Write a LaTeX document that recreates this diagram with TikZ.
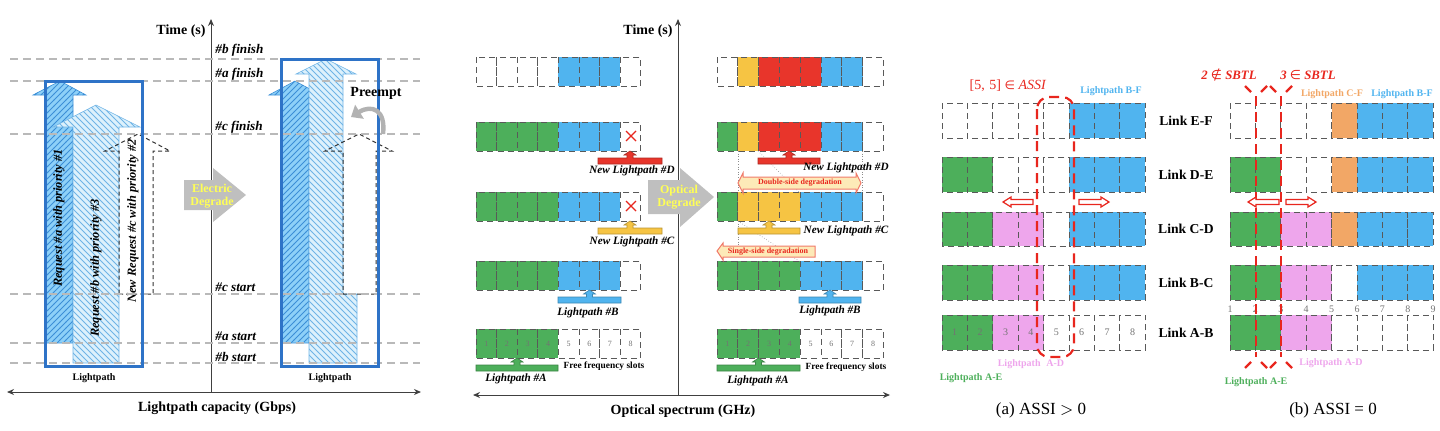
\documentclass[tikz,border=0pt]{standalone}
\usepackage{fontspec}
\setmainfont{Liberation Serif}
\newfontfamily\symfont{DejaVu Sans}
\usetikzlibrary{arrows.meta, patterns}

\definecolor{lpblue}{HTML}{2E73C7}
\definecolor{reqafill}{HTML}{8DD0F8}
\definecolor{reqaline}{HTML}{3C8FD6}
\definecolor{reqbfill}{HTML}{DDF1FC}
\definecolor{reqbline}{HTML}{6FB4E6}
\definecolor{slotgreen}{HTML}{4DAF5B}
\definecolor{slotblue}{HTML}{50B4EF}
\definecolor{slotred}{HTML}{E8352B}
\definecolor{slotyellow}{HTML}{F6C443}
\definecolor{slotpink}{HTML}{EEA6EC}
\definecolor{slotorange}{HTML}{F2A766}
\definecolor{degfill}{HTML}{FDEAB8}
\definecolor{degline}{HTML}{F07A6A}
\definecolor{marker}{HTML}{E8261E}
\definecolor{degtextcol}{HTML}{FFFF55}

\tikzstyle{axisline} = [line width=0.5pt, black!75]
\tikzstyle{guide} = [gray!55, line width=0.55pt, dash pattern=on 4pt off 2.5pt]
\tikzstyle{lpbox} = [draw=lpblue, line width=1.5pt]
\tikzstyle{reqa} = [draw=reqaline, line width=0.3pt, preaction={fill=reqafill}, pattern=north east lines, pattern color=reqaline]
\tikzstyle{reqb} = [draw=reqbline, line width=0.3pt, preaction={fill=reqbfill}, pattern=north west lines, pattern color=reqbline]
\tikzstyle{reqc} = [draw=black!80, line width=0.5pt, dash pattern=on 2pt off 1.5pt]
\tikzstyle{timelabel} = [font=\fontsize{6.6}{7}\selectfont\bfseries\itshape, anchor=west, inner sep=0]
\tikzstyle{reqtext} = [font=\fontsize{6.2}{7}\selectfont\bfseries\itshape, rotate=90, inner sep=0]
\tikzstyle{small} = [font=\fontsize{5}{6}\selectfont\bfseries, inner sep=0]
\tikzstyle{axistitle} = [font=\fontsize{7}{8}\selectfont\bfseries, inner sep=0]
\tikzstyle{degrade} = [fill=gray!50, draw=none]
\tikzstyle{degtext} = [font=\fontsize{6}{6.8}\selectfont\bfseries, text=degtextcol, align=center, inner sep=0]
\tikzstyle{slot} = [draw=black!65, densely dashed, line width=0.4pt]
\tikzstyle{slotnum} = [font=\fontsize{4}{5}\selectfont, text=black!55, inner sep=0]
\tikzstyle{lplabel} = [font=\fontsize{5.6}{6}\selectfont\bfseries\itshape, inner sep=0]
\tikzstyle{freelabel} = [font=\fontsize{4.7}{5}\selectfont\bfseries, inner sep=0]
\tikzstyle{degarrow} = [draw=degline, fill=degfill, line width=0.5pt]
\tikzstyle{degnote} = [font=\fontsize{4}{4.5}\selectfont\bfseries, text=marker, inner sep=0]
\tikzstyle{proj} = [black!45, line width=0.3pt, densely dotted]
\tikzstyle{link} = [font=\fontsize{6.8}{7}\selectfont\bfseries, inner sep=0]
\tikzstyle{pathname} = [font=\fontsize{5}{5.5}\selectfont\bfseries, inner sep=0]
\tikzstyle{redmark} = [draw=marker, line width=1.1pt, dash pattern=on 5pt off 3pt]
\tikzstyle{redtext} = [font=\fontsize{7}{8}\selectfont, text=marker, inner sep=0]
\tikzstyle{sbtltext} = [font=\fontsize{6.4}{7}\selectfont\bfseries\itshape, text=marker, inner sep=0]
\tikzstyle{caption} = [font=\fontsize{8.5}{9}\selectfont, inner sep=0]
\tikzstyle{hollow} = [draw=marker, fill=white, line width=0.6pt]

% one row of spectrum slots: x0, y0, slot width, height, colours
\newcommand{\slotrow}[5]{%
  \foreach \c [count=\i from 0] in {#5}
    \draw[slot, fill=\c] ({#1+\i*#3},#2) rectangle ++(#3,#4);
}
% lightpath bar with a small arrow: x1, x2, y top, colour
\newcommand{\lpbar}[4]{%
  \pgfmathsetmacro{\xm}{(#1+#2)/2}
  \draw[draw=#4!75!black, fill=#4, line width=0.3pt] (#1,#3+6) -- (#1,#3) -- (\xm-3,#3) -- (\xm-3,#3-3) -- (\xm-6,#3-3)
    -- (\xm,#3-7) -- (\xm+6,#3-3) -- (\xm+3,#3-3) -- (\xm+3,#3) -- (#2,#3) -- (#2,#3+6) -- cycle;
}
% hollow red arrow: tail x, head base x, tip x, y
\newcommand{\harrow}[4]{%
  \draw[hollow] (#1,#4-2.5) -- (#2,#4-2.5) -- (#2,#4-5) -- (#3,#4) -- (#2,#4+5) -- (#2,#4+2.5) -- (#1,#4+2.5) -- cycle;
}

\begin{document}
\begin{tikzpicture}[x=0.5pt, y=-0.5pt]
\useasboundingbox (0,0) rectangle (1440,430);

% ---------- electric layer ----------
\coordinate (e-left) at (7,392);
\coordinate (e-right) at (421,392);
\coordinate (e-base) at (211,392);
\coordinate (e-top) at (211,19);
\draw[axisline, {Stealth[length=3.5pt,width=3pt]}-{Stealth[length=3.5pt,width=3pt]}] (e-left) -- (e-right);
\draw[axisline, -{Stealth[length=3.5pt,width=3pt]}] (e-base) -- (e-top);
\node[axistitle, anchor=east] (e-time) at (206,31) {Time (s)};
\node[axistitle] (e-cap) at (217,408) {Lightpath capacity (Gbps)};

% requests before
\draw[reqa] (45,343) -- (73,343) -- (73,95) -- (86,95) -- (60,81) -- (33,95) -- (45,95) -- cycle;
\draw[reqb] (73,363) -- (119,363) -- (119,127) -- (140,127) -- (96,105) -- (53,127) -- (73,127) -- cycle;
\draw[reqc] (119,294) -- (153,294) -- (153,151) -- (170,151) -- (138,134) -- (105,151) -- (119,151) -- cycle;
\node[reqtext] (req-a) at (59,218) {Request \#a with priority \#1};
\node[reqtext] (req-b) at (96,268) {Request \#b with priority \#3};
\node[reqtext] (req-c) at (133,221) {New Request \#c with priority \#2};

% requests after
\draw[reqa] (281,343) -- (309,343) -- (309,95) -- (321,95) -- (295,81) -- (269,95) -- (281,95) -- cycle;
\draw[reqb] (309,363) -- (357,363) -- (357,294) -- (343,294) -- (343,74) -- (356,74) -- (326,59) -- (296,74) -- (309,74) -- cycle;
\draw[reqc] (343,294) -- (376,294) -- (376,151) -- (392,151) -- (359,134) -- (325,151) -- (343,151) -- cycle;

\foreach \y in {59,81,134,294,343,363}
  \draw[guide] (10,\y) -- (420,\y);

\draw[lpbox] (45,81) rectangle (142,366);
\draw[lpbox] (281,59) rectangle (378,366);
\node[small] (lp-before) at (94,378) {Lightpath};
\node[small] (lp-after) at (330,378) {Lightpath};

\node[timelabel] (b-fin) at (215,50) {\#b finish};
\node[timelabel] (a-fin) at (215,74) {\#a finish};
\node[timelabel] (c-fin) at (215,127) {\#c finish};
\node[timelabel] (c-sta) at (215,287) {\#c start};
\node[timelabel] (a-sta) at (215,336) {\#a start};
\node[timelabel] (b-sta) at (215,357) {\#b start};

\draw[degrade] (184,180) -- (213,180) -- (213,168) -- (246,195) -- (213,222) -- (213,210) -- (184,210) -- cycle;
\node[degtext] (e-degrade) at (212,196) {Electric\\Degrade};

\node[font=\fontsize{7}{8}\selectfont\bfseries, inner sep=0] (preempt) at (376,93) {Preempt};
\draw[line width=2.2pt, gray!60, -{Triangle[length=5pt,width=8pt]}] (383,134) .. controls (386,110) and (372,104) .. (351,117);

% ---------- optical layer ----------
\coordinate (o-left) at (473,395);
\coordinate (o-right) at (890,395);
\coordinate (o-base) at (678,395);
\coordinate (o-top) at (678,19);
\draw[axisline, {Stealth[length=3.5pt,width=3pt]}-{Stealth[length=3.5pt,width=3pt]}] (o-left) -- (o-right);
\draw[axisline, -{Stealth[length=3.5pt,width=3pt]}] (o-base) -- (o-top);
\node[axistitle, anchor=east] (o-time) at (673,31) {Time (s)};
\node[axistitle] (o-spec) at (683,411) {Optical spectrum (GHz)};

% spectrum before
\slotrow{476}{57}{20.6}{29}{white,white,white,white,slotblue,slotblue,slotblue,white}
\slotrow{476}{122}{20.6}{29}{slotgreen,slotgreen,slotgreen,slotgreen,slotblue,slotblue,slotblue,white}
\slotrow{476}{192}{20.6}{29}{slotgreen,slotgreen,slotgreen,slotgreen,slotblue,slotblue,slotblue,white}
\slotrow{476}{261}{20.6}{29}{slotgreen,slotgreen,slotgreen,slotgreen,slotblue,slotblue,slotblue,white}
\slotrow{476}{329}{20.6}{29}{slotgreen,slotgreen,slotgreen,slotgreen,white,white,white,white}
\foreach \i in {1,...,8}
  \node[slotnum] (nl\i) at ({476+20.6*(\i-0.5)},343.5) {\i};
\foreach \y in {136,206}
  \draw[marker, line width=0.6pt] (626,\y-5) -- (636,\y+5) (626,\y+5) -- (636,\y-5);

\lpbar{598}{662}{158}{slotred}
\lpbar{598}{662}{228}{slotyellow}
\lpbar{558}{621}{297}{slotblue}
\lpbar{476}{558}{365}{slotgreen}
\node[lplabel] (nd-l) at (632,171) {New Lightpath \#D};
\node[lplabel] (nc-l) at (632,242) {New Lightpath \#C};
\node[lplabel] (lb-l) at (588,313) {Lightpath \#B};
\node[lplabel] (la-l) at (516,379) {Lightpath \#A};
\node[freelabel] (free-l) at (604,366) {Free frequency slots};

\draw[degrade] (648,180) -- (680,180) -- (680,168) -- (714,197) -- (680,227) -- (680,214) -- (648,214) -- cycle;
\node[degtext] (o-degrade) at (679,197) {Optical\\Degrade};

% spectrum after
\draw[proj] (738,151) -- (738,192);
\draw[proj] (862,151) -- (862,192);
\draw[proj] (758,151) -- (799,192);
\draw[proj] (738,221) -- (738,246);
\draw[proj] (738,221) -- (799,261);
\slotrow{717}{57}{20.8}{29}{white,slotyellow,slotred,slotred,slotred,slotblue,slotblue,white}
\slotrow{717}{122}{20.8}{29}{slotgreen,slotyellow,slotred,slotred,slotred,slotblue,slotblue,white}
\slotrow{717}{192}{20.8}{29}{slotgreen,slotyellow,slotyellow,slotyellow,slotblue,slotblue,slotblue,white}
\slotrow{717}{261}{20.8}{29}{slotgreen,slotgreen,slotgreen,slotgreen,slotblue,slotblue,slotblue,white}
\slotrow{717}{329}{20.8}{29}{slotgreen,slotgreen,slotgreen,slotgreen,white,white,white,white}
\foreach \i in {1,...,8}
  \node[slotnum] (nr\i) at ({717+20.8*(\i-0.5)},343.5) {\i};

\lpbar{758}{820}{158}{slotred}
\lpbar{738}{800}{228}{slotyellow}
\lpbar{799}{861}{297}{slotblue}
\lpbar{717}{800}{365}{slotgreen}
\node[lplabel] (nd-r) at (846,168) {New Lightpath \#D};
\node[lplabel] (nc-r) at (846,231) {New Lightpath \#C};
\node[lplabel] (lb-r) at (830,311) {Lightpath \#B};
\node[lplabel] (la-r) at (758,381) {Lightpath \#A};
\node[freelabel] (free-r) at (846,367) {Free frequency slots};

\draw[degarrow] (738,183) -- (743,173) -- (743,177) -- (856,177) -- (856,173) -- (861,183) -- (856,193) -- (856,189) -- (743,189) -- (743,193) -- cycle;
\node[degnote] (double) at (800,183) {Double-side degradation};
\draw[degarrow] (717,251) -- (723,243) -- (723,246) -- (815,246) -- (815,257) -- (723,257) -- (723,260) -- cycle;
\node[degnote] (single) at (768,251.5) {Single-side degradation};

% ---------- (a) ASSI > 0 ----------
\slotrow{942}{103}{25.4}{35}{white,white,white,white,white,slotblue,slotblue,slotblue}
\slotrow{942}{157}{25.4}{35}{slotgreen,slotgreen,white,white,white,slotblue,slotblue,slotblue}
\slotrow{942}{212}{25.4}{34}{slotgreen,slotgreen,slotpink,slotpink,white,slotblue,slotblue,slotblue}
\slotrow{942}{265}{25.4}{35}{slotgreen,slotgreen,slotpink,slotpink,white,slotblue,slotblue,slotblue}
\slotrow{942}{315}{25.4}{35}{slotgreen,slotgreen,slotpink,slotpink,white,white,white,white}
\foreach \i in {1,...,8}
  \node[slotnum, font=\fontsize{5}{6}\selectfont] (na\i) at ({942+25.4*(\i-0.5)},332.5) {\i};

\draw[redmark, rounded corners=6pt] (1037,97) rectangle (1074,357);
\harrow{1033}{1011}{1003}{202}
\harrow{1079}{1101}{1109}{202}
\node[redtext] (assi) at (1008,86) {[5,\,\,5] {\symfont\fontsize{6}{7}\selectfont ∈} \textit{ASSI}};
\node[pathname, text=slotblue] (bf-a) at (1111,91) {Lightpath B-F};
\node[pathname, text=slotpink] (ad-a) at (1031,364) {Lightpath\,\, A-D};
\node[pathname, text=slotgreen] (ae-a) at (971,378) {Lightpath A-E};
\node[caption] (cap-a) at (1041,410) {(a) ASSI $>$ 0};

% link names
\node[link] (ef) at (1186,120.5) {Link E-F};
\node[link] (de) at (1186,174.5) {Link D-E};
\node[link] (cd) at (1186,229) {Link C-D};
\node[link] (bc) at (1186,282.5) {Link B-C};
\node[link] (ab) at (1186,332.5) {Link A-B};

% ---------- (b) ASSI = 0 ----------
\slotrow{1230}{103}{25.4}{35}{white,white,white,white,slotorange,slotblue,slotblue,slotblue}
\slotrow{1230}{157}{25.4}{35}{slotgreen,slotgreen,white,white,slotorange,slotblue,slotblue,slotblue}
\slotrow{1230}{212}{25.4}{34}{slotgreen,slotgreen,slotpink,slotpink,slotorange,slotblue,slotblue,slotblue}
\slotrow{1230}{265}{25.4}{35}{slotgreen,slotgreen,slotpink,slotpink,white,slotblue,slotblue,slotblue}
\slotrow{1230}{315}{25.4}{35}{slotgreen,slotgreen,slotpink,slotpink,white,white,white,white}
\foreach \i in {1,...,9}
  \node[slotnum, font=\fontsize{5}{6}\selectfont] (nb\i) at ({1230+25.4*(\i-1)},309.5) {\i};

\foreach \x in {1256,1281} {
  \draw[redmark] (\x,96) -- (\x,357);
  \draw[draw=marker, line width=1.1pt] (\x-11,86) -- (\x-5,92) (\x+5,92) -- (\x+11,86);
  \draw[draw=marker, line width=1.1pt] (\x-5,362) -- (\x-11,368) (\x+5,362) -- (\x+11,368);
}
\harrow{1279}{1256}{1248}{202}
\harrow{1286}{1308}{1316}{202}
\node[sbtltext] (sbtl2) at (1229,75) {2 {\symfont\upshape\mdseries ∉} SBTL};
\node[sbtltext] (sbtl3) at (1308,75) {3 {\symfont\upshape\mdseries ∈} SBTL};
\node[pathname, text=slotorange] (cf-b) at (1332,94) {Lightpath C-F};
\node[pathname, text=slotblue] (bf-b) at (1402,94) {Lightpath B-F};
\node[pathname, text=slotpink] (ad-b) at (1331,363) {Lightpath A-D};
\node[pathname, text=slotgreen] (ae-b) at (1256,382) {Lightpath A-E};
\node[caption] (cap-b) at (1333,410) {(b) ASSI = 0};
\end{tikzpicture}
\end{document}
